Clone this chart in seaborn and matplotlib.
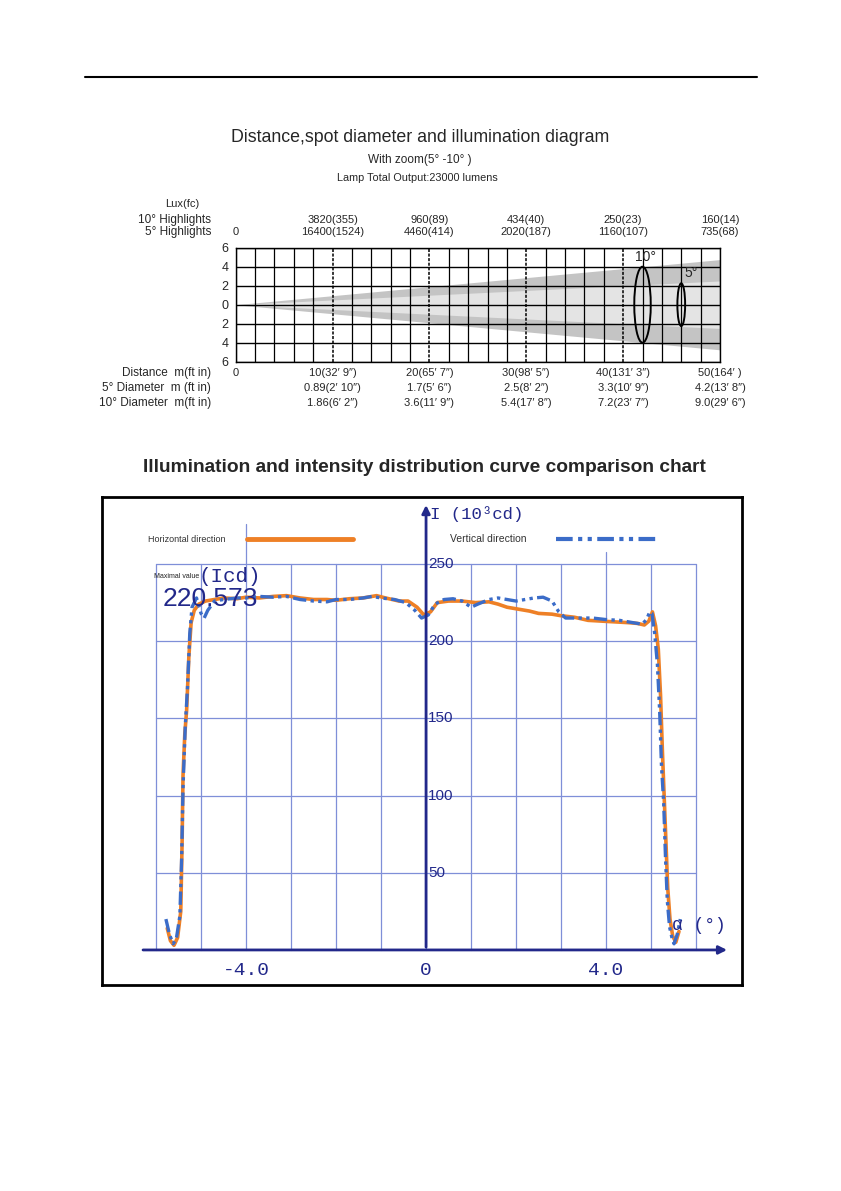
import numpy as np
import matplotlib
matplotlib.use("Agg")
import matplotlib.pyplot as plt
import matplotlib.transforms as mtransforms
from matplotlib.patches import Ellipse
from matplotlib.lines import Line2D
import seaborn as sns

# ---- top diagram data ----
dist_cols = [10, 20, 30, 40, 50]
lux_10 = ["3820(355)", "960(89)", "434(40)", "250(23)", "160(14)"]
lux_5 = ["16400(1524)", "4460(414)", "2020(187)", "1160(107)", "735(68)"]
dist_labels = ["10(32′ 9″)", "20(65′ 7″)", "30(98′ 5″)", "40(131′ 3″)", "50(164′ )"]
diam_5 = ["0.89(2′ 10″)", "1.7(5′ 6″)", "2.5(8′ 2″)", "3.3(10′ 9″)", "4.2(13′ 8″)"]
diam_10 = ["1.86(6′ 2″)", "3.6(11′ 9″)", "5.4(17′ 8″)", "7.2(23′ 7″)", "9.0(29′ 6″)"]
beam_names = ["10°", "5°"]
beam_half_at_50 = [4.75, 2.5]     # half spread of the drawn beam at 50 m
ring_dist = [42, 46]              # where the spot rings are drawn
ring_half = [4.0, 2.25]
ring_width = [1.7, 0.8]

# ---- intensity curves (deg, 10^3 cd) ----
h_deg = [-5.75, -5.68, -5.6, -5.52, -5.45, -5.42, -5.4, -5.36, -5.32, -5.27, -5.22, -5.15,
         -5.05, -4.9, -4.7, -4.5, -4.2, -4.0, -3.7, -3.4, -3.1, -2.8, -2.5, -2.2, -2.0,
         -1.7, -1.4, -1.1, -0.9, -0.6, -0.4, -0.2, -0.05, 0.1, 0.25, 0.5, 0.8, 1.1, 1.4,
         1.6, 1.8, 2.0, 2.3, 2.5, 2.8, 3.0, 3.3, 3.6, 3.9, 4.2, 4.5, 4.7, 4.85, 4.95,
         5.03, 5.1, 5.16, 5.21, 5.25, 5.29, 5.33, 5.37, 5.42, 5.48, 5.55, 5.62]
h_val = [14, 6, 3, 8, 25, 70, 113, 140, 155, 190, 212, 220,
         224, 226, 227, 228, 227.5, 228.5, 228, 229, 229.5, 228, 227, 227, 226.5,
         227.5, 228, 229.5, 228, 226, 226, 222, 217, 219, 225, 226, 226, 225, 225.5,
         224, 222, 221, 219.5, 218, 217.5, 216.5, 215.5, 213.5, 213, 212.5, 212, 211.5, 210.5, 213,
         219, 210, 195, 165, 130, 100, 70, 40, 20, 9, 5, 12]
v_deg = [-5.78, -5.7, -5.62, -5.55, -5.47, -5.43, -5.4, -5.35, -5.3, -5.25, -5.2, -5.1,
         -5.0, -4.93, -4.85, -4.7, -4.5, -4.2, -4.0, -3.7, -3.4, -3.1, -2.8, -2.5, -2.2,
         -2.0, -1.7, -1.4, -1.2, -1.0, -0.7, -0.45, -0.25, -0.1, 0.05, 0.2, 0.4, 0.6, 0.8,
         1.0, 1.15, 1.4, 1.6, 1.8, 2.0, 2.2, 2.4, 2.6, 2.8, 2.95, 3.1, 3.4, 3.7, 4.0, 4.3,
         4.6, 4.8, 4.9, 4.97, 5.02, 5.08, 5.14, 5.19, 5.23, 5.28, 5.32, 5.36, 5.41, 5.47,
         5.51, 5.58, 5.65]
v_val = [20, 10, 4, 7, 22, 60, 105, 145, 170, 205, 222, 228,
         218, 215, 220, 226, 227, 228, 228, 229, 228.5, 229, 227, 226, 225.5,
         227, 227, 228, 229, 228, 227, 225, 220, 215, 217, 224, 227, 227.5, 226,
         222, 224, 227, 228, 227, 226, 227, 228, 228.5, 226, 219, 215, 215, 215, 214, 213.5,
         212, 211, 214, 219, 218, 205, 185, 155, 120, 95, 60, 32, 15, 7,
         4, 10, 20]
y_ticks = [50, 100, 150, 200, 250]
x_ticks = [-4.0, 0, 4.0]

W, H = 841, 1191


def fx(x):
    return x / W


def fy(y):
    return 1 - y / H


def rect(x0, y0, x1, y1):
    return [x0 / W, 1 - y1 / H, (x1 - x0) / W, (y1 - y0) / H]


sns.set_style("white")
plt.rcParams['font.family'] = ['Liberation Sans', 'DejaVu Sans']
mono = ["Liberation Mono", "DejaVu Sans Mono"]

fig = plt.figure(figsize=(8.41, 11.91), dpi=100)
fig.add_artist(Line2D([fx(85), fx(757)], [fy(77), fy(77)], color="black", lw=1.5))

# ================= top: beam diagram =================
fig.text(fx(420), fy(137), "Distance,spot diameter and illumination diagram",
         ha="center", va="center", fontsize=12.8)
fig.text(fx(420), fy(160), "With zoom(5° -10° )", ha="center", va="center", fontsize=8.5)
fig.text(fx(417), fy(178), "Lamp Total Output:23000 lumens", ha="center", va="center", fontsize=7.8)
fig.text(fx(165), fy(204), "Lux(fc)", ha="left", va="center", fontsize=8)

row_names = [(220, "10° Highlights"), (232, "5° Highlights"), (373, "Distance  m(ft in)"),
             (388, "5° Diameter  m (ft in)"), (403, "10° Diameter  m(ft in)")]
for yy, t in row_names:
    fig.text(fx(211), fy(yy), t, ha="right", va="center", fontsize=8.5)

ax1 = fig.add_axes(rect(235.7, 247.7, 720, 361.7))
ax1.set_xlim(0, 50)
ax1.set_ylim(-6, 6)
beam_cols = ["#c4c4c4", "#e4e4e4"]
for half, col in zip(beam_half_at_50, beam_cols):
    ax1.fill_between([0, 50], [0, half], [0, -half], color=col, lw=0, zorder=1)
for x in range(0, 51, 2):
    if x % 10 == 0 and 0 < x < 50:
        ax1.axvline(x, color="black", lw=1.1, ls=(0, (2, 1)), zorder=2)
    else:
        ax1.axvline(x, color="black", lw=0.9, zorder=2)
for y in range(-6, 7, 2):
    ax1.axhline(y, color="black", lw=1.0, zorder=2)
for s in ax1.spines.values():
    s.set_color("black")
    s.set_linewidth(1.0)
ax1.set_xticks([])
ax1.set_yticks(range(-6, 7, 2))
ax1.set_yticklabels([str(abs(v)) for v in range(-6, 7, 2)])
ax1.tick_params(axis="y", length=0, pad=5, labelsize=9)

for d, hh, w in zip(ring_dist, ring_half, ring_width):
    ax1.add_patch(Ellipse((d, 0), w, 2 * hh, fill=False, ec="black", lw=1.4, zorder=4))
ax1.text(ring_dist[0] + 0.3, ring_half[0] + 1.0, beam_names[0], ha="center", va="center", fontsize=10)
ax1.text(ring_dist[1] + 1.0, ring_half[1] + 1.1, beam_names[1], ha="center", va="center", fontsize=10)

trans = mtransforms.blended_transform_factory(ax1.transData, fig.transFigure)
ax1.text(0, fy(232), "0", transform=trans, ha="center", va="center", fontsize=8)
ax1.text(0, fy(373), "0", transform=trans, ha="center", va="center", fontsize=8)
for d, a, b, c, e, f in zip(dist_cols, lux_10, lux_5, dist_labels, diam_5, diam_10):
    ax1.text(d, fy(220), a, transform=trans, ha="center", va="center", fontsize=8)
    ax1.text(d, fy(232), b, transform=trans, ha="center", va="center", fontsize=8)
    ax1.text(d, fy(373), c, transform=trans, ha="center", va="center", fontsize=8)
    ax1.text(d, fy(388), e, transform=trans, ha="center", va="center", fontsize=8)
    ax1.text(d, fy(403), f, transform=trans, ha="center", va="center", fontsize=8)

# ================= bottom: intensity curves =================
navy = "#22288a"
grid_c = "#7f8fd8"
orange = "#ee8026"
blue = "#3b6cc8"
dashdotdot = (0, (4, 1.3, 1, 1.3, 1, 1.3))

fig.text(fx(424), fy(467), "Illumination and intensity distribution curve comparison chart",
         ha="center", va="center", fontsize=13.8, fontweight="bold")

ax2 = fig.add_axes(rect(102, 497, 742, 985))
ax2.set_xlim(-7.2, 7.02)
ax2.set_ylim(-22.7, 293.4)
for s in ax2.spines.values():
    s.set_color("black")
    s.set_linewidth(2)

for x in range(-6, 7):
    top = {-4: 276, 4: 258}.get(x, 250)
    ax2.plot([x, x], [0, top], color=grid_c, lw=0.9, zorder=1)
for y in y_ticks:
    ax2.plot([-6, 6], [y, y], color=grid_c, lw=0.9, zorder=1)

sns.lineplot(x=h_deg, y=h_val, ax=ax2, color=orange, lw=2.6, errorbar=None, sort=False, zorder=3)
sns.lineplot(x=v_deg, y=v_val, ax=ax2, color=blue, lw=2.4, errorbar=None, sort=False, zorder=4,
             linestyle=dashdotdot)
ax2.set_xticks([])
ax2.set_yticks([])
ax2.set_xlabel("")
ax2.set_ylabel("")

ax2.annotate("", xy=(6.75, 0), xytext=(-6.35, 0),
             arrowprops=dict(arrowstyle="-|>", color=navy, lw=2, mutation_scale=12), zorder=5)
ax2.annotate("", xy=(0, 290), xytext=(0, 0),
             arrowprops=dict(arrowstyle="-|>", color=navy, lw=2, mutation_scale=12), zorder=5)

for v in y_ticks:
    ax2.text(0.05, v, str(v), ha="left", va="center", color=navy, fontsize=11, zorder=6)
for v in x_ticks:
    lab = "0" if v == 0 else f"{v:.1f}"
    ax2.text(v, -13, lab, ha="center", va="center", color=navy, fontsize=14,
             family=mono, zorder=6)

fig.text(fx(430), fy(514), "I (10³cd)", ha="left", va="center", color=navy, fontsize=12.5,
         family=mono)
fig.text(fx(672), fy(925), "α (°)", ha="left", va="center", color=navy, fontsize=13,
         family=mono)

# legend samples
fig.text(fx(148), fy(539), "Horizontal direction", ha="left", va="center", fontsize=6.5, color="#333333")
fig.add_artist(Line2D([fx(247), fx(353)], [fy(539), fy(539)], color=orange, lw=3.5))
fig.text(fx(450), fy(539), "Vertical direction", ha="left", va="center", fontsize=7.5, color="#333333")
fig.add_artist(Line2D([fx(556), fx(660)], [fy(539), fy(539)], color=blue, lw=3, ls=dashdotdot))

fig.text(fx(154), fy(577), "Maximal value", ha="left", va="center", fontsize=5, color="#222222")
fig.text(fx(198), fy(576), "(Icd)", ha="left", va="center", fontsize=15, color=navy, family=mono)
fig.text(fx(163), fy(599), "220.573", ha="left", va="center", fontsize=19, color=navy, zorder=7)

fig.savefig("out.png", dpi=100)
